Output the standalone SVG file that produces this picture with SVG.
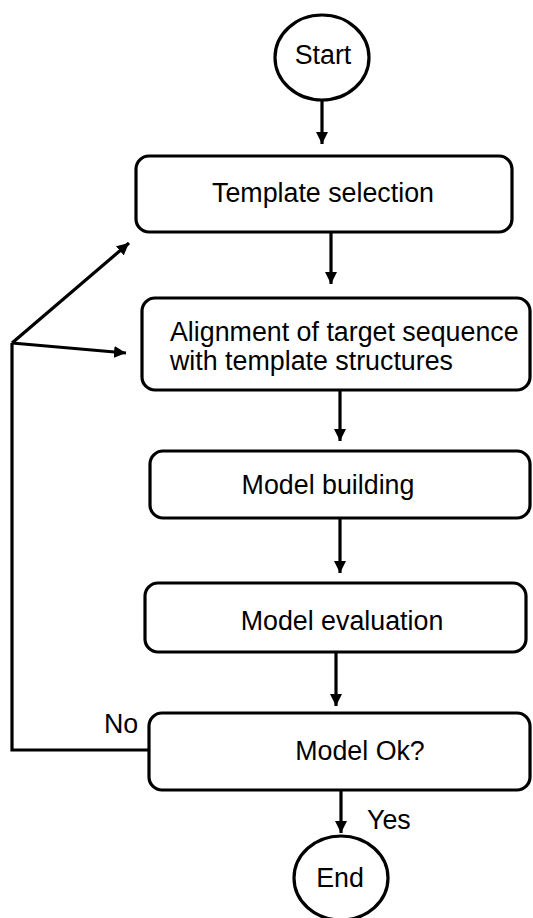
<svg xmlns="http://www.w3.org/2000/svg" width="533" height="918" viewBox="0 0 533 918">
<defs>
<style>
.box{fill:#fff;stroke:#000;stroke-width:3.2}
.ln{fill:none;stroke:#000;stroke-width:3.2}
.t{font-family:"Liberation Sans",Arial,sans-serif;font-size:26.8px;fill:#000}
.c{text-anchor:middle}
</style>
<marker id="ah" markerUnits="userSpaceOnUse" markerWidth="14" markerHeight="12" refX="12" refY="6" orient="auto">
<path d="M0,0 L12,6 L0,12 Z" fill="#000"/>
</marker>
</defs>
<rect width="533" height="918" fill="#fff"/>
<g id="connectors">
<line class="ln" x1="322" y1="100" x2="322" y2="144" marker-end="url(#ah)"/>
<line class="ln" x1="331" y1="232" x2="331" y2="284" marker-end="url(#ah)"/>
<line class="ln" x1="340" y1="390" x2="340" y2="441" marker-end="url(#ah)"/>
<line class="ln" x1="340" y1="518" x2="340" y2="573" marker-end="url(#ah)"/>
<line class="ln" x1="336" y1="652" x2="336" y2="706" marker-end="url(#ah)"/>
<line class="ln" x1="341" y1="790" x2="341" y2="833" marker-end="url(#ah)"/>
<polyline class="ln" points="149,750 12,750 12,343"/>
<line class="ln" x1="12" y1="343" x2="129" y2="243" marker-end="url(#ah)"/>
<line class="ln" x1="12" y1="343" x2="126" y2="353" marker-end="url(#ah)"/>
<text class="t" x="104" y="733">No</text>
<text class="t" x="367" y="829">Yes</text>
</g>
<g id="start">
<ellipse class="box" cx="322" cy="57.5" rx="47" ry="42.5"/>
<text class="t c" x="323" y="64">Start</text>
</g>
<g id="template">
<rect class="box" x="136" y="156" width="376" height="76" rx="13"/>
<text class="t c" x="323" y="202">Template selection</text>
</g>
<g id="alignment">
<rect class="box" x="142" y="298" width="388" height="92" rx="13"/>
<text class="t" x="170" y="341">Alignment of target sequence</text>
<text class="t" x="170" y="370">with template structures</text>
</g>
<g id="building">
<rect class="box" x="150" y="451" width="380" height="67" rx="13"/>
<text class="t c" x="328" y="494">Model building</text>
</g>
<g id="evaluation">
<rect class="box" x="145" y="583" width="381" height="69" rx="13"/>
<text class="t c" x="342" y="630">Model evaluation</text>
</g>
<g id="modelok">
<rect class="box" x="149" y="713" width="381" height="77" rx="13"/>
<text class="t c" x="360" y="760">Model Ok?</text>
</g>
<g id="end">
<ellipse class="box" cx="341" cy="878" rx="47" ry="42"/>
<text class="t c" x="340" y="887">End</text>
</g>
</svg>
